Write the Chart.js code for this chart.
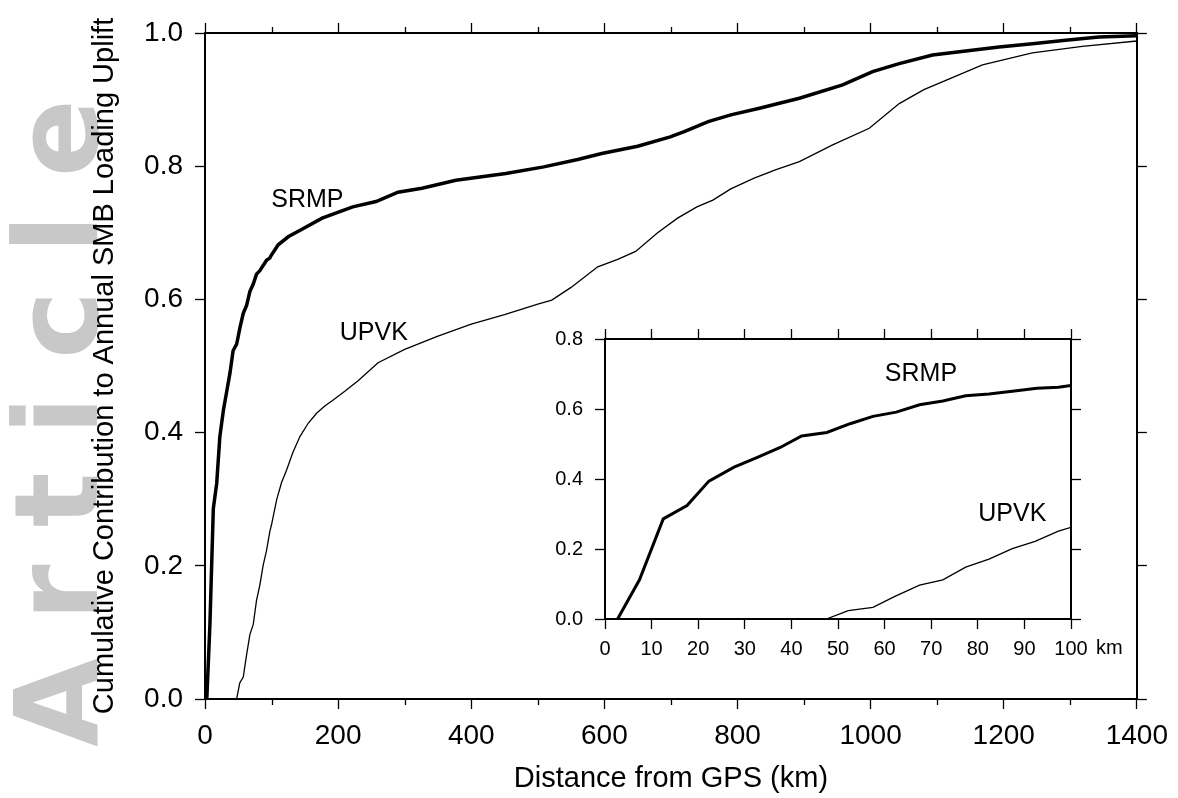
<!DOCTYPE html>
<html>
<head>
<meta charset="utf-8">
<script src="https://cdn.jsdelivr.net/npm/chart.js@4.4.1/dist/chart.umd.min.js"></script>
<style>
  html, body { margin: 0; padding: 0; background: #fff; }
  #wrap { position: relative; width: 1178px; height: 798px; }
  #main { position: absolute; left: 0; top: 0; }
  #inset { position: absolute; left: 545px; top: 310px; }
</style>
</head>
<body>
<div id="wrap">
  <canvas id="main" width="1178" height="798"></canvas>
  <canvas id="inset" width="620" height="370"></canvas>
</div>
<script>
// distance (km) and cumulative contribution
const srmpKm = [2.7, 7.4, 12.5, 17.6, 22.3, 27.7, 32.7, 37.6, 42.2, 47.6, 52.6, 57.5, 62.5, 67.5, 72.5, 77.4,
  82.4, 87.4, 92.7, 97.3, 100, 110, 125, 145, 176, 222, 257, 290, 326, 377, 452, 509, 560, 596, 650, 699,
  720, 756, 790, 833, 893, 958, 1003, 1043, 1093, 1143, 1193, 1243, 1293, 1343, 1400];
const srmpVal = [0, 0.112, 0.286, 0.324, 0.394, 0.434, 0.462, 0.490, 0.523, 0.533, 0.558, 0.579, 0.591, 0.612, 0.623, 0.638,
  0.643, 0.651, 0.659, 0.662, 0.667, 0.682, 0.694, 0.705, 0.722, 0.739, 0.747, 0.761, 0.767, 0.779, 0.789, 0.799, 0.810, 0.819, 0.830, 0.844,
  0.852, 0.867, 0.877, 0.887, 0.902, 0.922, 0.942, 0.954, 0.967, 0.973, 0.979, 0.984, 0.989, 0.994, 0.996];

const upvkKm = [47.5, 52.2, 57.5, 62.1, 67.5, 72.5, 77.4, 82.4, 87.4, 92.3, 97.3, 100, 107.6, 115, 122.6, 132,
  142.6, 155, 167.6, 180, 192.6, 210, 230, 260, 300, 350, 400, 450, 500, 521, 550, 590, 620, 647, 680, 710,
  739, 763, 790, 825, 858, 893, 943, 998, 1043, 1080, 1113, 1168, 1243, 1318, 1400];
const upvkVal = [0, 0.024, 0.033, 0.064, 0.097, 0.112, 0.148, 0.171, 0.201, 0.222, 0.251, 0.262, 0.299, 0.325, 0.344, 0.370,
  0.394, 0.414, 0.429, 0.440, 0.449, 0.462, 0.478, 0.505, 0.525, 0.545, 0.563, 0.577, 0.593, 0.599, 0.618, 0.649, 0.660, 0.672, 0.700, 0.722,
  0.739, 0.749, 0.766, 0.782, 0.795, 0.807, 0.832, 0.857, 0.894, 0.915, 0.929, 0.952, 0.970, 0.980, 0.988];

const mainLabels = [{ text: 'SRMP', x: 153.8, y: 0.7485 }, { text: 'UPVK', x: 253.6, y: 0.5495 }];
const insetLabels = [{ text: 'SRMP', x: 67.8, y: 0.6986 }, { text: 'UPVK', x: 87.4, y: 0.2986 }];

Chart.defaults.font.family = '"Liberation Sans", Arial, Helvetica, sans-serif';
Chart.defaults.color = '#000';

const toXY = (xs, ys) => xs.map((x, i) => ({ x, y: ys[i] }));

function axis(pos, min, max, step, size, extra) {
  return Object.assign({
    type: 'linear',
    position: pos,
    min, max,
    ticks: { stepSize: step, display: false },
    grid: { drawOnChartArea: false, drawTicks: true, tickLength: 10, tickColor: '#000', tickWidth: 1.3 },
    border: { display: true, color: '#000', width: 2 },
    afterFit: s => { if (pos === 'left' || pos === 'right') s.width = size; else s.height = size; }
  }, extra || {});
}

const curveLabels = {
  id: 'curveLabels',
  afterDatasetsDraw(chart, args, opts) {
    const { ctx, scales } = chart;
    ctx.save();
    ctx.font = `${opts.size}px "Liberation Sans", Arial, sans-serif`;
    ctx.fillStyle = '#000';
    ctx.textAlign = 'center';
    ctx.textBaseline = 'middle';
    opts.items.forEach(l => ctx.fillText(l.text, scales.x.getPixelForValue(l.x), scales.y.getPixelForValue(l.y)));
    ctx.restore();
  }
};

// short minor ticks at the odd hundreds of the main x axes
const minorTicks = {
  id: 'minorTicks',
  afterDraw(chart) {
    const { ctx, chartArea } = chart;
    const sx = chart.scales.x;
    ctx.save();
    ctx.strokeStyle = '#000';
    ctx.lineWidth = 1.3;
    for (let v = 100; v < 1400; v += 200) {
      const px = Math.round(sx.getPixelForValue(v)) + 0.5;
      ctx.beginPath();
      ctx.moveTo(px, chartArea.bottom); ctx.lineTo(px, chartArea.bottom + 6);
      ctx.moveTo(px, chartArea.top); ctx.lineTo(px, chartArea.top - 6);
      ctx.stroke();
    }
    ctx.restore();
  }
};

const watermark = {
  id: 'watermark',
  beforeDraw(chart) {
    const ctx = chart.ctx;
    ctx.save();
    ctx.translate(97, 747);
    ctx.rotate(-Math.PI / 2);
    ctx.font = 'bold 115px "DejaVu Sans", sans-serif';
    ctx.fillStyle = '#c8c8c8';
    ctx.textBaseline = 'alphabetic';
    let pos = 0;
    for (const ch of 'Article') {
      ctx.fillText(ch, pos, 0);
      pos += ctx.measureText(ch).width + 37;
    }
    ctx.restore();
  }
};

const kmUnit = {
  id: 'kmUnit',
  afterDraw(chart) {
    const { ctx, scales } = chart;
    ctx.save();
    ctx.font = '20px "Liberation Sans", Arial, sans-serif';
    ctx.fillStyle = '#000';
    ctx.textAlign = 'left';
    ctx.textBaseline = 'middle';
    ctx.fillText('km', scales.x.getPixelForValue(100) + 25, scales.x.top + 29);
    ctx.restore();
  }
};

new Chart(document.getElementById('main'), {
  type: 'line',
  data: {
    datasets: [
      { label: 'SRMP', data: toXY(srmpKm, srmpVal), borderColor: '#000', borderWidth: 3.5, pointRadius: 0, tension: 0 },
      { label: 'UPVK', data: toXY(upvkKm, upvkVal), borderColor: '#000', borderWidth: 1.3, pointRadius: 0, tension: 0 }
    ]
  },
  options: {
    responsive: false,
    animation: false,
    devicePixelRatio: 1,
    layout: { padding: 0 },
    plugins: {
      legend: { display: false },
      tooltip: { enabled: false },
      curveLabels: { size: 25, items: mainLabels }
    },
    scales: {
      x: axis('bottom', 0, 1400, 200, 99, {
        ticks: { stepSize: 200, font: { size: 28 }, padding: 10, maxRotation: 0, autoSkip: false, callback: v => String(v) },
        title: { display: true, text: 'Distance from GPS (km)', font: { size: 29 }, padding: { bottom: 2 } }
      }),
      x2: axis('top', 0, 1400, 200, 33),
      y: axis('left', 0, 1, 0.2, 205, {
        ticks: { stepSize: 0.2, font: { size: 28 }, padding: 12, callback: v => v.toFixed(1) },
        title: { display: true, text: 'Cumulative Contribution to Annual SMB Loading Uplift', font: { size: 29 }, padding: { top: 88 } }
      }),
      y2: axis('right', 0, 1, 0.2, 40)
    }
  },
  plugins: [watermark, curveLabels, minorTicks]
});

new Chart(document.getElementById('inset'), {
  type: 'line',
  data: {
    datasets: [
      { label: 'SRMP', data: toXY(srmpKm, srmpVal), borderColor: '#000', borderWidth: 3, pointRadius: 0, tension: 0 },
      { label: 'UPVK', data: toXY(upvkKm, upvkVal), borderColor: '#000', borderWidth: 1.3, pointRadius: 0, tension: 0 }
    ]
  },
  options: {
    responsive: false,
    animation: false,
    devicePixelRatio: 1,
    layout: { padding: 0 },
    plugins: {
      legend: { display: false },
      tooltip: { enabled: false },
      curveLabels: { size: 25, items: insetLabels }
    },
    scales: {
      x: axis('bottom', 0, 100, 10, 61, {
        ticks: { stepSize: 10, font: { size: 20 }, padding: 8, maxRotation: 0, autoSkip: false, callback: v => String(v) }
      }),
      x2: axis('top', 0, 100, 10, 29),
      y: axis('left', 0, 0.8, 0.2, 60, {
        ticks: { stepSize: 0.2, font: { size: 20 }, padding: 12, callback: v => v.toFixed(1) }
      }),
      y2: axis('right', 0, 0.8, 0.2, 94)
    }
  },
  plugins: [curveLabels, kmUnit]
});
</script>
</body>
</html>
